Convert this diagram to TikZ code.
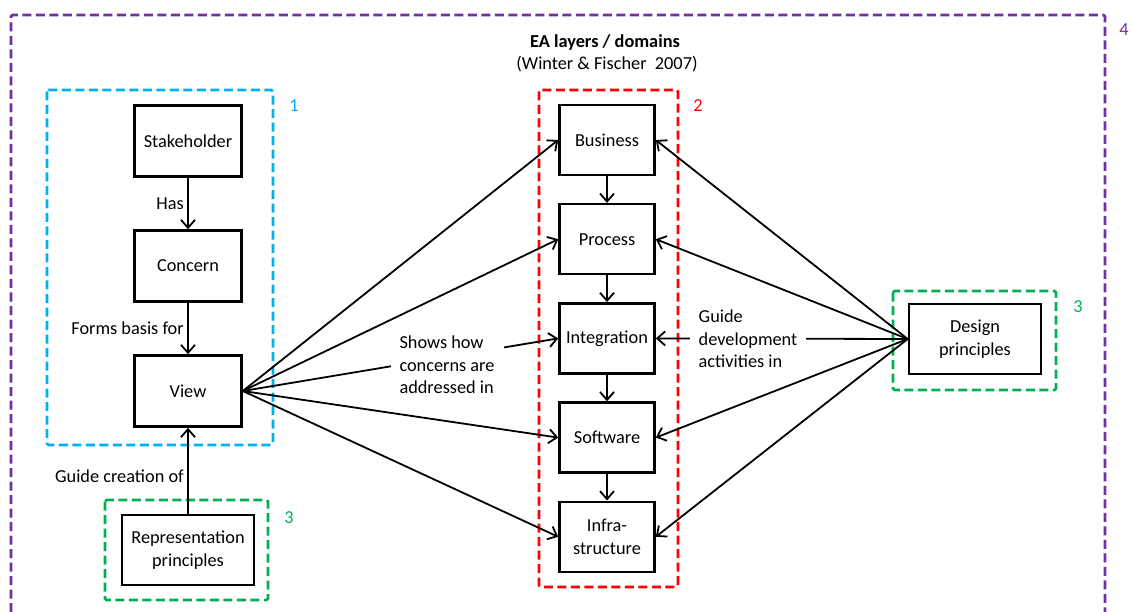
\documentclass[tikz,border=0pt]{standalone}
\usepackage{fontspec}
\setmainfont{Carlito}
\usepackage{tikz}
\usepackage{xcolor}
\usetikzlibrary{arrows.meta}
\usetikzlibrary{positioning}

\definecolor{eapurple}{RGB}{112,48,160}
\definecolor{eablue}{RGB}{0,176,240}
\definecolor{eared}{RGB}{255,0,0}
\definecolor{eagreen}{RGB}{0,176,80}

\begin{document}
\begin{tikzpicture}[x=1pt, y=-1pt, font=\fontsize{18.3}{22.5}\selectfont,
		box/.style={draw, line width=2.6pt, minimum width=107pt, minimum height=71pt, align=center},
		layer/.style={box, minimum width=95pt, minimum height=70pt},
		link/.style={line width=1.8pt, -{Straight Barb[length=8pt,width=14pt,line width=1.8pt]}},
		grp/.style={line width=2.6pt, dash pattern=on 9pt off 4.5pt, rounded corners=1.5pt},
		lbl/.style={fill=white, align=left, inner xsep=9pt, inner ysep=1pt}]
		\useasboundingbox (0,0) rectangle (1132,612);
		% groups
		\draw[grp, eapurple] (11,612) -- (11,15) -- (1105,15) -- (1105,612);
		\node[eapurple] (n4) at (1124,30) {4};
		\draw[grp, eablue] (47,90) rectangle (273,445);
		\node[eablue] (n1) at (294,106) {1};
		\draw[grp, eared] (539,90) rectangle (678,587);
		\node[eared] (n2) at (698,106) {2};
		\draw[grp, eagreen] (105,500) rectangle (268,600);
		\node[eagreen] (n3a) at (289,518) {3};
		\draw[grp, eagreen] (893,291) rectangle (1056,390);
		\node[eagreen] (n3b) at (1078,307) {3};
		% title
		\node[font=\fontsize{18.3}{22.5}\selectfont\bfseries] (title) at (605,43) {EA layers / domains};
		\node (source) at (607,64) {(Winter \& Fischer~~2007)};
		% viewpoint side
		\node[box] (stake) at (188,141) {Stakeholder};
		\node[box, below=51.4pt of stake] (concern) {Concern};
		\node[box, below=51.4pt of concern] (view) {View};
		\node[box, minimum width=132pt, minimum height=70pt] (repr) at (188,550) {Representation\\principles};
		% layers
		\node[layer] (business) at (607,140) {Business};
		\node[layer, below=26.6pt of business] (process) {Process};
		\node[layer, below=26.6pt of process] (integration) {Integration};
		\node[layer, below=26.6pt of integration] (software) {Software};
		\node[layer, below=26.6pt of software] (infra) {Infra-\\structure};
		\node[box, minimum width=132pt, minimum height=70pt] (design) at (975,339) {Design\\principles};
		% connectors
		\draw[link] (stake) -- node[left] {Has} (concern);
		\draw[link] (concern) -- node[left] {Forms basis for} (view);
		\draw[link] (repr) -- node[pos=0.44, left] {Guide creation of} (view);
		\draw[link] (business) -- (process);
		\draw[link] (process) -- (integration);
		\draw[link] (integration) -- (software);
		\draw[link] (software) -- (infra);
		\foreach \l in {business,process,integration,software,infra} {
			\draw[link] (view.east) -- (\l.west);
			\draw[link] (design.west) -- (\l.east);
		}
		\node[lbl] (shows) at (447,365) {Shows how\\concerns are\\addressed in};
		\node[lbl] (guide) at (748,339) {Guide\\development\\activities in};
\end{tikzpicture}
\end{document}
